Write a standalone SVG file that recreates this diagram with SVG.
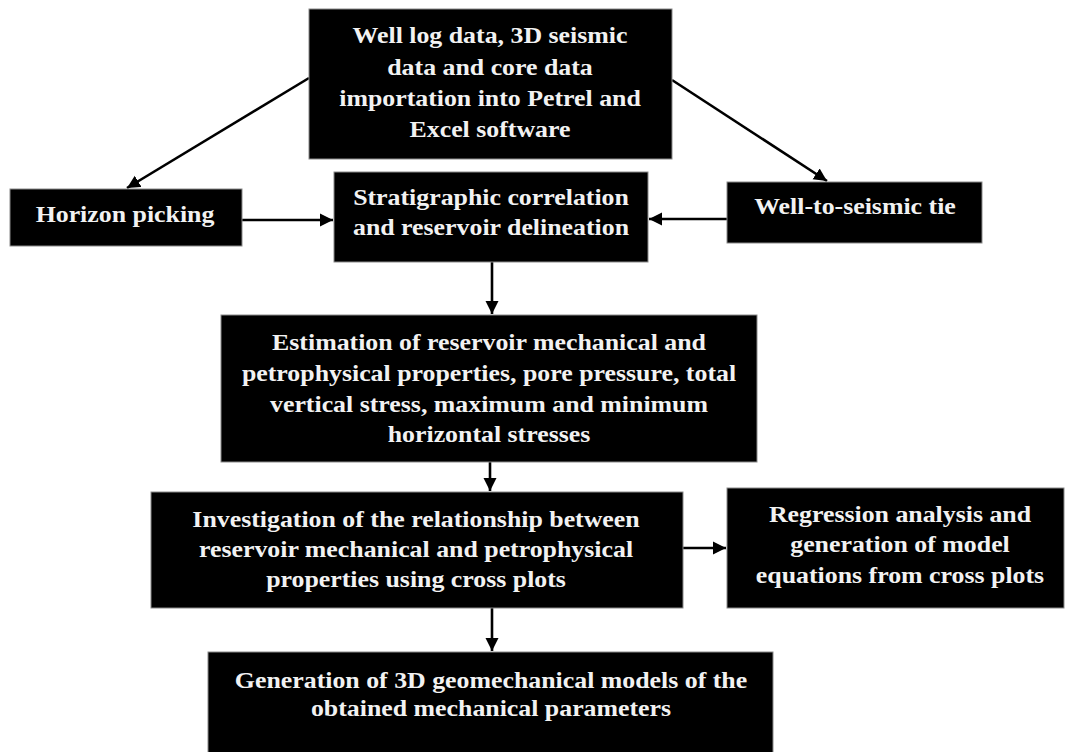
<svg xmlns="http://www.w3.org/2000/svg" width="1065" height="752" viewBox="0 0 1065 752">
<style>
.box{fill:#000;stroke:#8a8a8a;stroke-width:1}
.t{font-family:"Liberation Serif","Times New Roman",serif;font-weight:bold;font-size:23.5px;fill:#f2f2f2;text-anchor:middle}
.c{stroke:#000;stroke-width:2.6;fill:none;marker-end:url(#ah)}
</style>
<defs>
<marker id="ah" markerUnits="userSpaceOnUse" viewBox="-13 -7 14 14" refX="0" refY="0" markerWidth="14" markerHeight="14" orient="auto">
<path d="M-13,-6.5 L0,0 L-13,6.5 z" fill="#000"/>
</marker>
</defs>
<rect width="1065" height="752" fill="#fff"/>
<g id="connectors">
<line class="c" x1="309" y1="78" x2="127" y2="188"/>
<line class="c" x1="672" y1="80" x2="827" y2="181"/>
<line class="c" x1="242" y1="220" x2="333" y2="220"/>
<line class="c" x1="727" y1="219" x2="649" y2="219"/>
<line class="c" x1="492" y1="262" x2="492" y2="314"/>
<line class="c" x1="490" y1="462" x2="490" y2="491"/>
<line class="c" x1="683" y1="548" x2="726" y2="548"/>
<line class="c" x1="492" y1="608" x2="492" y2="651"/>
</g>
<g id="n_input">
<rect class="box" x="309" y="9" width="363" height="150"/>
<g transform="translate(490 0) scale(1.1 1)">
<text class="t" x="0" y="43">Well log data, 3D seismic</text>
<text class="t" x="0" y="75">data and core data</text>
<text class="t" x="0" y="106">importation into Petrel and</text>
<text class="t" x="0" y="137">Excel software</text>
</g>
</g>
<g id="n_horizon">
<rect class="box" x="10" y="189" width="232" height="57"/>
<g transform="translate(125 0) scale(1.1 1)">
<text class="t" x="0" y="222">Horizon picking</text>
</g>
</g>
<g id="n_strat">
<rect class="box" x="334" y="172" width="314" height="90"/>
<g transform="translate(491 0) scale(1.1 1)">
<text class="t" x="0" y="205">Stratigraphic correlation</text>
<text class="t" x="0" y="235">and reservoir delineation</text>
</g>
</g>
<g id="n_tie">
<rect class="box" x="727" y="182" width="255" height="61"/>
<g transform="translate(855 0) scale(1.1 1)">
<text class="t" x="0" y="214">Well-to-seismic tie</text>
</g>
</g>
<g id="n_estimation">
<rect class="box" x="221" y="315" width="536" height="147"/>
<g transform="translate(489 0) scale(1.1 1)">
<text class="t" x="0" y="350">Estimation of reservoir mechanical and</text>
<text class="t" x="0" y="381">petrophysical properties, pore pressure, total</text>
<text class="t" x="0" y="412">vertical stress, maximum and minimum</text>
<text class="t" x="0" y="442">horizontal stresses</text>
</g>
</g>
<g id="n_investigation">
<rect class="box" x="151" y="492" width="532" height="116"/>
<g transform="translate(416 0) scale(1.1 1)">
<text class="t" x="0" y="527">Investigation of the relationship between</text>
<text class="t" x="0" y="557">reservoir mechanical and petrophysical</text>
<text class="t" x="0" y="587">properties using cross plots</text>
</g>
</g>
<g id="n_regression">
<rect class="box" x="727" y="488" width="337" height="120"/>
<g transform="translate(900 0) scale(1.1 1)">
<text class="t" x="0" y="522">Regression analysis and</text>
<text class="t" x="0" y="552">generation of model</text>
<text class="t" x="0" y="583">equations from cross plots</text>
</g>
</g>
<g id="n_generation">
<rect class="box" x="208" y="652" width="565" height="101"/>
<g transform="translate(491 0) scale(1.1 1)">
<text class="t" x="0" y="688">Generation of 3D geomechanical models of the</text>
<text class="t" x="0" y="716">obtained mechanical parameters</text>
</g>
</g>
</svg>
